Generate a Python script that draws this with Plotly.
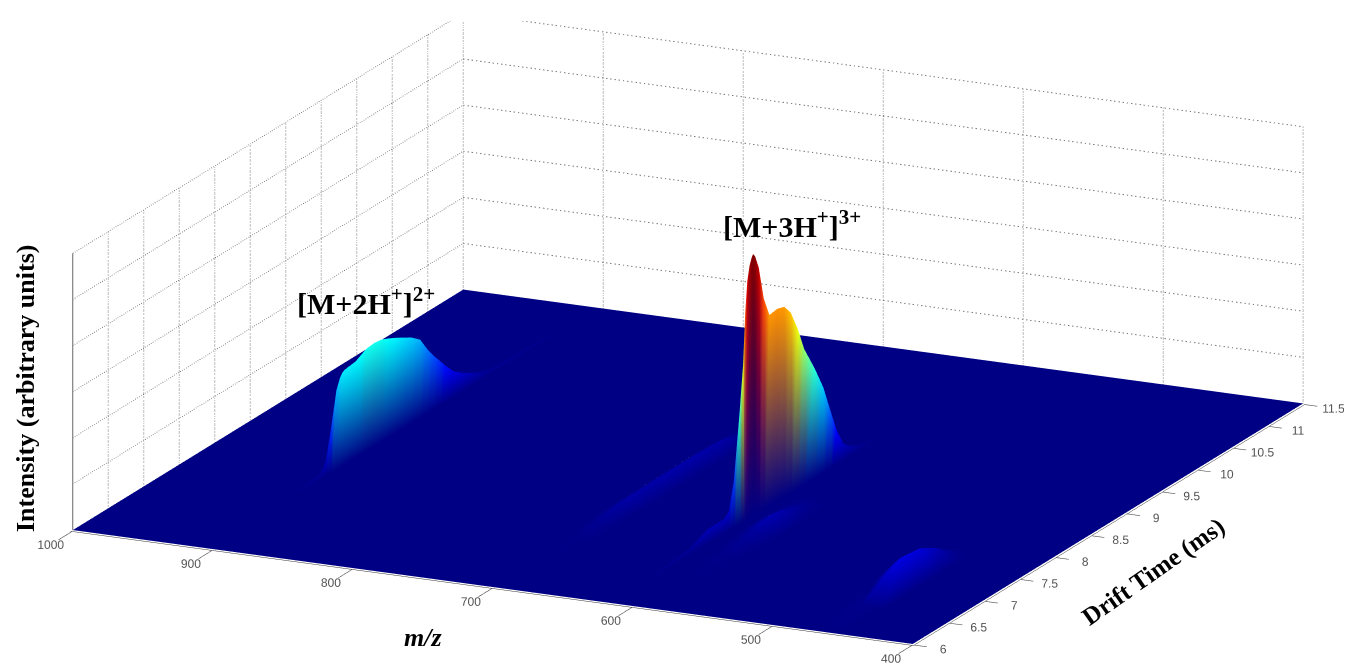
import plotly.graph_objects as go

MZ_TICKS = [400, 500, 600, 700, 800, 900, 1000]
DT_TICKS = [6, 6.5, 7, 7.5, 8, 8.5, 9, 9.5, 10, 10.5, 11, 11.5]
Z_LEVELS = [0, 1, 2, 3, 4, 5, 6]
Z_RANGE = [-0.02, 6.02]
MZ_RANGE = [1001, 399]
DT_RANGE = [5.99, 11.51]

DRIFT = [6.0, 6.55, 7.1, 7.375, 7.6, 7.67, 7.74, 7.82, 7.87, 7.9, 7.93, 7.96, 7.99, 8.01, 8.04, 8.09, 8.16, 8.24, 8.35,
         8.45, 8.54, 8.64, 8.73, 8.88, 9.0, 9.1, 9.19, 9.28, 9.36, 9.47, 9.59, 9.8, 9.98, 10.4, 10.95, 11.5]

Z_EMPTY = [0.0] * 36
Z_MZ465 = [0, .04, .55, .5, .3, .2, .12, .05, .02, 0, 0, 0, 0, 0, 0, 0, 0, 0, 0, 0, 0, 0, 0, 0, 0, 0, 0, 0, 0, 0, 0, 0, 0, 0, 0, 0]
Z_MZ594 = [0, 0, .03, .08, .15, .2, .24, .25, .25, .25, .24, .23, .22, .2, .18, .15, .12, .08, .05, .02, 0, 0, 0, 0, 0, 0, 0, 0, 0, 0, 0, 0, 0, 0, 0, 0]
Z_MZ616 = [0, .02, .12, .3, .3, .4, 1.0, 2.4, 3.4, 4.5, 5.16, 5.45, 5.6, 5.66, 5.58, 5.29, 4.56, 4.12, 4.15, 4.1, 3.89, 3.44,
           2.92, 2.35, 1.83, 1.23, .71, .35, .22, .12, .06, .02, 0, 0, 0, 0]
Z_MZ697 = [0, 0, .02, .08, .14, .16, .18, .2, .2, .2, .2, .2, .2, .2, .2, .2, .2, .22, .22, .22, .22, .22, .22, .22, .2, .2,
           .18, .15, .1, .05, .02, 0, 0, 0, 0, 0]
Z_MZ904 = [0, 0, .02, .05, .12, .3, .9, 1.7, 1.92, 2.0, 2.03, 2.04, 2.05, 2.05, 2.06, 2.07, 2.13, 2.2, 2.22, 2.2, 2.14, 2.06,
           1.98, 1.84, 1.68, 1.38, 1.15, .95, .77, .55, .4, .2, .1, .08, .03, 0]

MZ_COLUMNS = [(400, Z_EMPTY), (450, Z_EMPTY), (465, Z_MZ465), (482, Z_EMPTY), (580, Z_EMPTY), (594, Z_MZ594),
              (608, Z_EMPTY), (615, Z_EMPTY), (616, Z_MZ616), (618, Z_EMPTY), (685, Z_EMPTY), (697, Z_MZ697),
              (708, Z_EMPTY), (903, Z_EMPTY), (904, Z_MZ904), (906, Z_EMPTY), (1000, Z_EMPTY)]

JET = [(0, (0, 0, 132)), (.125, (0, 0, 255)), (.375, (0, 255, 255)), (.625, (255, 255, 0)), (.875, (255, 0, 0)), (1, (128, 0, 0))]
Z_MAX = 5.66


def jet(v):
    t = min(max(v / Z_MAX, 0), 1)
    for (t0, c0), (t1, c1) in zip(JET, JET[1:]):
        if t <= t1:
            f = (t - t0) / (t1 - t0)
            return "rgb(%d,%d,%d)" % tuple(round(a + (b - a) * f) for a, b in zip(c0, c1))
    return "rgb(128,0,0)"


xs, ys, zs, colors, ii, jj, kk = [], [], [], [], [], [], []
for mz, col in MZ_COLUMNS:
    for dt, v in zip(DRIFT, col):
        xs.append(mz); ys.append(dt); zs.append(v); colors.append(jet(v))
nr = len(DRIFT)
for c in range(len(MZ_COLUMNS) - 1):
    for r in range(nr - 1):
        a = c * nr + r
        b = a + 1
        d = a + nr
        e = d + 1
        ii += [a, a]
        jj += [b, e]
        kk += [e, d]

fig = go.Figure()
fig.add_trace(go.Mesh3d(x=xs, y=ys, z=zs, i=ii, j=jj, k=kk, vertexcolor=colors, flatshading=False,
                        lighting=dict(ambient=1, diffuse=0, specular=0, roughness=1, fresnel=0),
                        hoverinfo="skip", showscale=False))

GRID = "#7a7a7a"


def dotted(x, y, z):
    fig.add_trace(go.Scatter3d(x=x, y=y, z=z, mode="lines", line=dict(color=GRID, width=2, dash="dot"),
                               hoverinfo="skip", showlegend=False))


LEFT = MZ_TICKS[-1]
BACK = DT_TICKS[-1]
TOP = Z_LEVELS[-1]
for lv in Z_LEVELS[1:]:
    dotted([LEFT, LEFT], [DT_TICKS[0], BACK], [lv, lv])
    dotted([LEFT, MZ_TICKS[0]], [BACK, BACK], [lv, lv])
for dt in DT_TICKS[1:]:
    dotted([LEFT, LEFT], [dt, dt], [0, TOP])
for mz in MZ_TICKS[:-1]:
    dotted([mz, mz], [BACK, BACK], [0, TOP])
fig.add_trace(go.Scatter3d(x=[LEFT, LEFT], y=[DT_TICKS[0], DT_TICKS[0]], z=[0, TOP], mode="lines",
                           line=dict(color="#666666", width=2), hoverinfo="skip", showlegend=False))

tickfont = dict(family="Liberation Sans", size=12, color="#555555")
axis = dict(showgrid=False, zeroline=False, showbackground=False, showspikes=False, title=dict(text=""),
            ticks="outside", tickwidth=2, tickcolor="#555555", tickfont=tickfont, tickangle=0, showline=True,
            linecolor="#333333", linewidth=1)
EYE_NORM = 2.0
CENTER_Z = -0.0655
fig.update_layout(
    width=1352, height=669, margin=dict(l=0, r=0, t=0, b=0), paper_bgcolor="white", showlegend=False,
    scene=dict(
        domain=dict(x=[0.006, 1], y=[0.0, 0.98]),
        xaxis=dict(axis, range=MZ_RANGE, tickvals=MZ_TICKS, ticklen=14),
        yaxis=dict(axis, range=DT_RANGE, tickvals=DT_TICKS, ticklen=32),
        zaxis=dict(axis, range=Z_RANGE, tickvals=Z_LEVELS, showticklabels=False, ticks="", showline=False),
        aspectmode="manual", aspectratio=dict(x=2.838, y=2.813, z=0.887),
        camera=dict(projection=dict(type="orthographic"),
                    eye=dict(x=0.4066 * EYE_NORM, y=-0.8667 * EYE_NORM, z=0.289 * EYE_NORM + CENTER_Z),
                    center=dict(x=0, y=0, z=CENTER_Z), up=dict(x=0, y=0, z=1)),
    ),
    annotations=[
        dict(text="<b>Intensity (arbitrary units)</b>", x=17, y=381, textangle=-90, font=dict(family="Liberation Serif", size=26, color="black")),
        dict(text="<b><i>m/z</i></b>", x=415, y=629, font=dict(family="Liberation Serif", size=26, color="black")),
        dict(text="<b>Drift Time (ms)</b>", x=1145, y=564, textangle=-35, font=dict(family="Liberation Serif", size=25, color="black")),
        dict(text="<b>[M+2H<sup>+</sup>]<sup>2+</sup></b>", x=358, y=293, font=dict(family="Liberation Serif", size=30, color="black")),
        dict(text="<b>[M+3H<sup>+</sup>]<sup>3+</sup></b>", x=784, y=216, font=dict(family="Liberation Serif", size=30, color="black")),
    ],
)
for a in fig.layout.annotations:
    a.update(xref="paper", yref="paper", showarrow=False, xanchor="center", yanchor="middle")
    a.x = a.x / 1352
    a.y = 1 - a.y / 669
fig.write_html("out.html")
